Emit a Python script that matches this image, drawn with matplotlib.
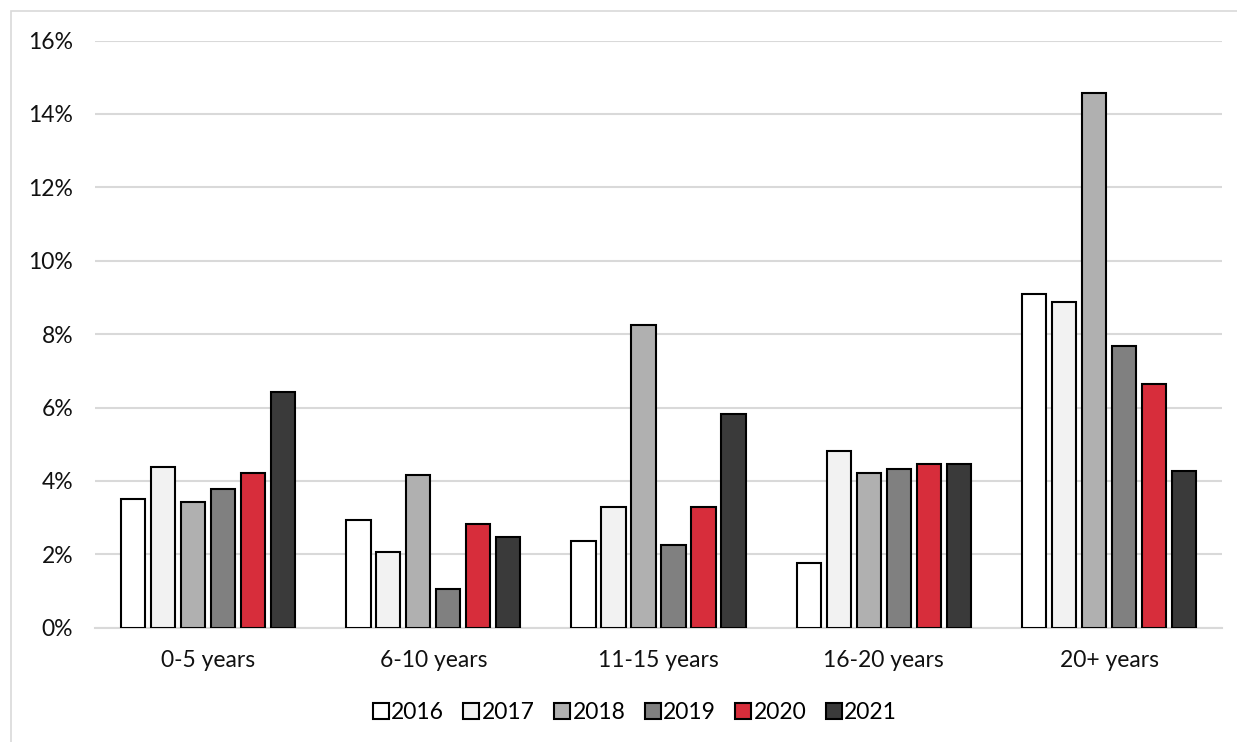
import numpy as np
import matplotlib.pyplot as plt
from matplotlib.patches import Rectangle
from matplotlib.ticker import FuncFormatter

plt.rcParams['font.family'] = ['Lato', 'DejaVu Sans']

categories = ['0-5 years', '6-10 years', '11-15 years', '16-20 years', '20+ years']
years = ['2016', '2017', '2018', '2019', '2020', '2021']
values = {
    '2016': [3.50, 2.93, 2.37, 1.77, 9.08],
    '2017': [4.39, 2.07, 3.29, 4.82, 8.88],
    '2018': [3.43, 4.16, 8.25, 4.22, 14.58],
    '2019': [3.78, 1.05, 2.25, 4.33, 7.68],
    '2020': [4.22, 2.83, 3.29, 4.47, 6.65],
    '2021': [6.41, 2.48, 5.81, 4.47, 4.26],
}
colors = ['#ffffff', '#f2f2f2', '#b0b0b0', '#808080', '#d72d3b', '#3a3a3a']

fig = plt.figure(figsize=(12.37, 7.42), dpi=100)
ax = fig.add_axes([0.0771, 0.154, 0.9105, 0.7914])

# thin chart-area border
fig.patches.append(Rectangle((11 / 1237, -0.1), 1.2, 1.1 - 11 / 742,
                             transform=fig.transFigure, fill=False,
                             edgecolor='#d9d9d9', lw=1.2, zorder=0))

x = np.arange(len(categories))
step = 0.133
width = 0.108
for i, (yr, c) in enumerate(zip(years, colors)):
    ax.bar(x + (i - 2.5) * step, values[yr], width, color=c,
           edgecolor='black', linewidth=1.5, label=yr, zorder=3)

ax.set_xlim(-0.5, len(categories) - 0.5)
ax.set_ylim(0, 16)
ax.set_yticks(np.arange(0, 17, 2))
ax.yaxis.set_major_formatter(FuncFormatter(lambda v, p: f'{v:.0f}%'))
ax.set_xticks(x)
ax.set_xticklabels(categories)
ax.grid(axis='y', color='#d9d9d9', lw=1.5, zorder=0)
ax.set_axisbelow(True)
for s in ['top', 'right', 'left']:
    ax.spines[s].set_visible(False)
ax.spines['bottom'].set_color('#d9d9d9')
ax.spines['bottom'].set_linewidth(1.5)
ax.tick_params(axis='both', length=0, labelsize=16.5, colors='#111111')
ax.tick_params(axis='y', pad=16)
ax.tick_params(axis='x', pad=16)

ax.legend(loc='center', bbox_to_anchor=(0.479, -0.145), ncol=6, frameon=False,
          fontsize=16.5, handlelength=0.7, handleheight=0.7, handletextpad=0.1,
          columnspacing=0.85)

fig.savefig('out.png', dpi=100)
